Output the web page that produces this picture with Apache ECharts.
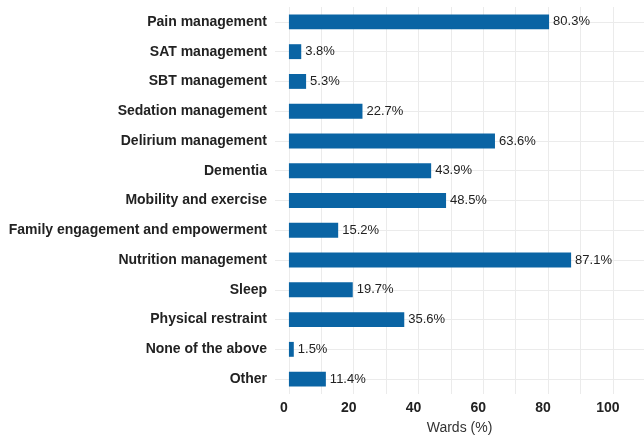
<!DOCTYPE html>
<html>
<head>
<meta charset="utf-8">
<script src="https://cdn.jsdelivr.net/npm/echarts@6/dist/echarts.min.js"></script>
<style>
  html, body { margin: 0; padding: 0; background: #fff; }
  #main { width: 644px; height: 440px; }
</style>
</head>
<body>
<div id="main"></div>
<script>
// categories top to bottom
var categories = ['Pain management', 'SAT management', 'SBT management', 'Sedation management',
  'Delirium management', 'Dementia', 'Mobility and exercise', 'Family engagement and empowerment',
  'Nutrition management', 'Sleep', 'Physical restraint', 'None of the above', 'Other'];
var values = [80.3, 3.8, 5.3, 22.7, 63.6, 43.9, 48.5, 15.2, 87.1, 19.7, 35.6, 1.5, 11.4];
var gridTicks = [0, 10, 20, 30, 40, 50, 60, 70, 80, 90, 100];
var tickLabels = [0, 20, 40, 60, 80, 100];

var myChart = echarts.init(document.getElementById('main'));
var option = {
  animation: false,
  textStyle: { fontFamily: 'Liberation Sans, Arial, sans-serif' },
  grid: { left: 275, right: 0, top: 7, bottom: 41, containLabel: false },
  xAxis: {
    type: 'value',
    min: -4.3,
    max: 109.6,
    name: 'Wards (%)',
    nameLocation: 'middle',
    nameGap: 27,
    nameTextStyle: { fontSize: 14, color: '#333' },
    axisLine: { show: false },
    axisTick: { show: false, customValues: gridTicks },
    axisLabel: {
      customValues: tickLabels,
      fontSize: 14, fontWeight: 'bold', color: '#222',
      margin: 7, padding: [0, 10, 0, 0]
    },
    splitLine: { show: true, lineStyle: { color: '#ebebeb', width: 1 } }
  },
  yAxis: {
    type: 'category',
    data: categories,
    inverse: true,
    axisLine: { show: false },
    axisTick: { show: false },
    axisLabel: { fontSize: 14, fontWeight: 'bold', color: '#222', margin: 8 },
    splitLine: { show: true, alignWithLabel: true, lineStyle: { color: '#ebebeb', width: 1 } }
  },
  series: [{
    type: 'bar',
    data: values,
    barWidth: '50%',
    itemStyle: { color: '#0a64a4' },
    label: {
      show: true,
      position: 'right',
      distance: 4,
      fontSize: 13,
      color: '#222',
      formatter: function (p) { return p.value.toFixed(1) + '%'; }
    }
  }]
};
myChart.setOption(option);
</script>
</body>
</html>
